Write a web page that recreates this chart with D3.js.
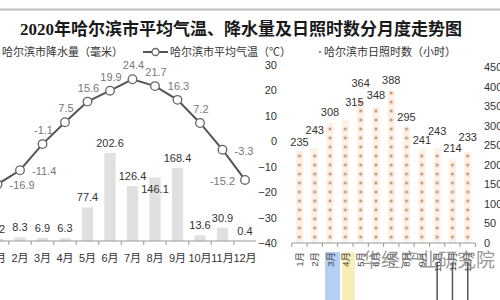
<!DOCTYPE html>
<html>
<head>
<meta charset="utf-8">
<script src="https://cdn.jsdelivr.net/npm/d3@7"></script>
<style>
  body { margin: 0; background: #fff; }
  svg { display: block; }
  text { font-family: "Liberation Sans", "Noto Sans CJK SC", sans-serif; }
</style>
</head>
<body>
<svg id="chart" width="500" height="300"></svg>
<script>
// data
const months = ["1月", "2月", "3月", "4月", "5月", "6月", "7月", "8月", "9月", "10月", "11月", "12月"];
const precip = [5.2, 8.3, 6.9, 6.3, 77.4, 202.6, 126.4, 146.1, 168.4, 13.6, 30.9, 0.4];
const temp = [-16.9, -11.4, -1.1, 7.5, 15.6, 19.9, 24.4, 21.7, 16.3, 7.2, -3.3, -15.2];
const sunshine = [235, 243, 308, 315, 364, 348, 388, 295, 241, 243, 214, 233];
const tempTicks = [30, 20, 10, 0, -10, -20, -30, -40];
const sunTicks = [0, 50, 100, 150, 200, 250, 300, 350, 400, 450];

// label placement (style only)
const tempLabelSide = ["right", "right", "top", "top", "top", "top", "top", "top", "top", "top", "right", "left"];
const precipLabelInside = [7];
const sunLabelLift = [9, 18, 11, 18, 18, 12, 11, 11, 9, 17, 11, 15];
const sunLabelShift = [0, 0, 0, 9, 0, 0, 0, 0, 0, 0, 0, 0];

const svg = d3.select("#chart");

// top rule + title
svg.append("line")
    .attr("x1", 0).attr("x2", 500).attr("y1", 9.5).attr("y2", 9.5)
    .attr("stroke", "#bdbdbd").attr("stroke-width", 2);

svg.append("text")
    .attr("x", 20).attr("y", 35)
    .style("font-family", "'Liberation Serif', 'Noto Sans CJK SC', serif")
    .style("font-size", "17px")
    .style("font-weight", "bold")
    .attr("fill", "#1a1a1a")
    .text("2020年哈尔滨市平均气温、降水量及日照时数分月度走势图");

// legend
const legend = svg.append("g").style("font-size", "11px").attr("fill", "#333");
legend.append("text").attr("x", 2).attr("y", 56).text("哈尔滨市降水量（毫米）");
legend.append("line").attr("x1", 143).attr("x2", 168).attr("y1", 52).attr("y2", 52)
    .attr("stroke", "#555").attr("stroke-width", 2);
legend.append("circle").attr("cx", 155.5).attr("cy", 52).attr("r", 3.5)
    .attr("fill", "#fff").attr("stroke", "#666").attr("stroke-width", 1.3);
legend.append("text").attr("x", 170).attr("y", 56).text("哈尔滨市平均气温（℃）");
legend.append("circle").attr("cx", 320).attr("cy", 52).attr("r", 1.3).attr("fill", "#b09078");
legend.append("text").attr("x", 324).attr("y", 56).text("哈尔滨市日照时数（小时）");

// ---------- left chart: precipitation bars + temperature line ----------
const xL = d3.scaleBand().domain(months).range([-13.75, 256.25]).paddingInner(0.5).paddingOuter(0.25);
const yP = d3.scaleLinear().domain([0, 250]).range([241, 132.5]);
const yT = d3.scaleLinear().domain([-40, 30]).range([243, 65]);
const cL = m => xL(m) + xL.bandwidth() / 2;

const gL = svg.append("g");

gL.selectAll("rect.bar")
    .data(precip)
    .join("rect")
    .attr("class", "bar")
    .attr("x", (d, i) => xL(months[i]))
    .attr("width", xL.bandwidth())
    .attr("y", d => yP(d))
    .attr("height", d => yP(0) - yP(d))
    .attr("fill", "#e0e0e0");

gL.selectAll("text.plab")
    .data(precip)
    .join("text")
    .attr("class", "plab")
    .attr("x", (d, i) => cL(months[i]))
    .attr("y", (d, i) => precipLabelInside.includes(i) ? yP(d) + 15 : yP(d) - 6)
    .attr("text-anchor", "middle")
    .style("font-size", "11px")
    .attr("fill", "#333")
    .text(d => d);

// x axis
const axL = gL.append("g").attr("transform", "translate(0,241)");
axL.append("line").attr("x1", 0).attr("x2", 256).attr("stroke", "#999");
axL.selectAll("line.tk")
    .data(months.slice(1))
    .join("line")
    .attr("class", "tk")
    .attr("x1", m => xL(m) - xL.step() * 0.25).attr("x2", m => xL(m) - xL.step() * 0.25)
    .attr("y1", 0).attr("y2", 4)
    .attr("stroke", "#999");
axL.selectAll("text")
    .data(months)
    .join("text")
    .attr("x", m => cL(m))
    .attr("y", 21)
    .attr("text-anchor", "middle")
    .style("font-size", "11px")
    .attr("fill", "#333")
    .text(m => m);

// temperature line
const line = d3.line().x((d, i) => cL(months[i])).y(d => yT(d));
gL.append("path")
    .datum(temp)
    .attr("d", line)
    .attr("fill", "none")
    .attr("stroke", "#555")
    .attr("stroke-width", 2);

gL.selectAll("circle.tp")
    .data(temp)
    .join("circle")
    .attr("class", "tp")
    .attr("cx", (d, i) => cL(months[i]))
    .attr("cy", d => yT(d))
    .attr("r", 4.3)
    .attr("fill", "#fff")
    .attr("stroke", "#666")
    .attr("stroke-width", 1.3);

gL.selectAll("text.tlab")
    .data(temp)
    .join("text")
    .attr("class", "tlab")
    .attr("x", (d, i) => {
        const side = tempLabelSide[i];
        return cL(months[i]) + (side === "right" ? 12 : side === "left" ? -10 : 1);
    })
    .attr("y", (d, i) => tempLabelSide[i] === "top" ? yT(d) - 10 : yT(d) + 5)
    .attr("text-anchor", (d, i) => tempLabelSide[i] === "right" ? "start" : tempLabelSide[i] === "left" ? "end" : "middle")
    .style("font-size", "11px")
    .attr("fill", "#777")
    .text(d => d);

// ---------- right chart: sunshine hours ----------
const xR = d3.scaleBand().domain(months).range([291.8, 475.4]);
const yS = d3.scaleLinear().domain([0, 450]).range([243, 67]);
const cR = m => xR(m) + xR.bandwidth() / 2;

const gR = svg.append("g");

// temperature axis on the left of the right chart
gR.append("g")
    .attr("transform", "translate(281,0)")
    .call(d3.axisLeft(yT).tickValues(tempTicks).tickSize(0).tickPadding(4))
    .call(g => g.select(".domain").remove())
    .call(g => g.selectAll("text").style("font-size", "11px").attr("fill", "#333")
        .style("font-family", "'Liberation Sans', sans-serif"));

// hours axis on the right
gR.append("g")
    .attr("transform", "translate(480,0)")
    .call(d3.axisRight(yS).tickValues(sunTicks).tickSize(0).tickPadding(4))
    .call(g => g.select(".domain").remove())
    .call(g => g.selectAll("text").style("font-size", "11px").attr("fill", "#333")
        .style("font-family", "'Liberation Sans', sans-serif"));

// dotted columns
const cols = gR.selectAll("g.col")
    .data(sunshine)
    .join("g")
    .attr("class", "col")
    .attr("transform", (d, i) => `translate(${cR(months[i])},0)`);

cols.append("rect")
    .attr("x", -3.5).attr("width", 7)
    .attr("y", d => yS(d))
    .attr("height", d => yS(0) - yS(d))
    .attr("fill", "#fdf2e8");

cols.each(function(d) {
    const top = yS(d);
    const ys = d3.range(yS(0) - 6, top + 1, -9);
    const g = d3.select(this);
    g.selectAll("circle.halo").data(ys).join("circle").attr("class", "halo")
        .attr("cx", 0).attr("cy", y => y).attr("r", 2.6).attr("fill", "#f6d4b4").attr("opacity", 0.7);
    g.selectAll("circle.dot").data(ys).join("circle").attr("class", "dot")
        .attr("cx", 0).attr("cy", y => y).attr("r", 1.2).attr("fill", "#b89a84");
});

gR.selectAll("text.slab")
    .data(sunshine)
    .join("text")
    .attr("class", "slab")
    .attr("x", (d, i) => cR(months[i]) + sunLabelShift[i])
    .attr("y", (d, i) => yS(d) - sunLabelLift[i] + 4)
    .attr("text-anchor", "middle")
    .style("font-size", "11px")
    .attr("fill", "#333")
    .text(d => d);

// decorations under the right axis (highlight strips from the source image)
gR.append("rect").attr("x", cR("3月") - 5).attr("width", 15).attr("y", 252).attr("height", 48)
    .attr("fill", "#b4cff3");
gR.append("rect").attr("x", cR("4月") - 3.5).attr("width", 13).attr("y", 252).attr("height", 48)
    .attr("fill", "#f8edb4");
gR.selectAll("line.vl")
    .data(["10月", "11月", "12月"])
    .join("line")
    .attr("class", "vl")
    .attr("x1", m => cR(m)).attr("x2", m => cR(m))
    .attr("y1", 262).attr("y2", 300)
    .attr("stroke", "#555").attr("stroke-width", 1.5);

// x axis
const axR = gR.append("g").attr("transform", "translate(0,243)");
axR.append("line").attr("x1", xR.range()[0]).attr("x2", xR.range()[1]).attr("stroke", "#999");
axR.selectAll("line.tk")
    .data(months.concat(["end"]))
    .join("line")
    .attr("class", "tk")
    .attr("x1", (m, i) => xR.range()[0] + i * xR.step())
    .attr("x2", (m, i) => xR.range()[0] + i * xR.step())
    .attr("y1", 0).attr("y2", 4)
    .attr("stroke", "#999");
axR.selectAll("text")
    .data(months)
    .join("text")
    .attr("transform", m => `translate(${cR(m) + 3.5},9) rotate(-90)`)
    .attr("text-anchor", "end")
    .style("font-size", "9.5px")
    .attr("fill", "#444")
    .text(m => m);

// watermark
svg.append("text")
    .attr("x", 362).attr("y", 267)
    .style("font-size", "19px")
    .attr("fill", "#777")
    .attr("opacity", 0.75)
    .text("华经产业研究院");
</script>
</body>
</html>
